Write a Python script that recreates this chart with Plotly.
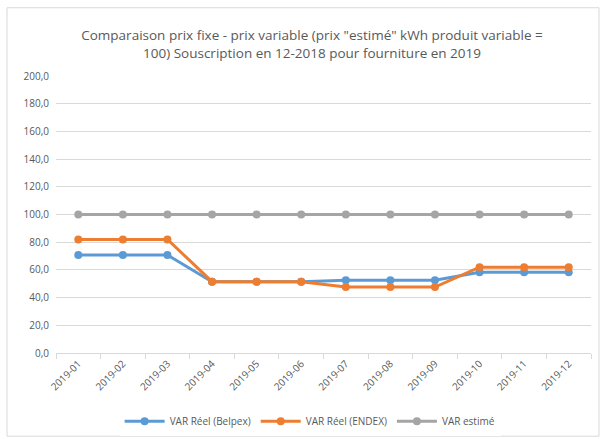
import plotly.graph_objects as go

months = ["2019-01", "2019-02", "2019-03", "2019-04", "2019-05", "2019-06",
          "2019-07", "2019-08", "2019-09", "2019-10", "2019-11", "2019-12"]
belpex = [70.7, 70.7, 70.7, 51.5, 51.5, 51.5, 52.6, 52.6, 52.6, 58.3, 58.3, 58.3]
endex = [82.0, 82.0, 82.0, 51.5, 51.5, 51.5, 47.6, 47.6, 47.6, 62.0, 62.0, 62.0]
estime = [100, 100, 100, 100, 100, 100, 100, 100, 100, 100, 100, 100]
series_names = ["VAR Réel (Belpex)", "VAR Réel (ENDEX)", "VAR estimé"]
colors = ["#5B9BD5", "#ED7D31", "#A5A5A5"]

FONT = "Open Sans"
TXT = "#595959"

fig = go.Figure()
for name, vals, col in zip(series_names, [belpex, endex, estime], colors):
    fig.add_trace(go.Scatter(
        x=months, y=vals, name=name, mode="lines+markers",
        line=dict(color=col, width=3),
        marker=dict(color=col, size=8),
    ))

W, H = 600, 439
L, R, T, B = 56, 9, 75.5, 85.5
pw = W - L - R
ph = H - T - B

def px_x(p):
    return (p - L) / pw

def px_y(p):
    return (H - B - p) / ph

fig.update_layout(
    width=W, height=H,
    margin=dict(l=L, r=R, t=T, b=B, autoexpand=False),
    paper_bgcolor="white", plot_bgcolor="white",
    separators=", ",
    font=dict(family=FONT, color=TXT, size=10),
    title=dict(
        text="Comparaison prix fixe - prix variable (prix \"estimé\" kWh produit variable =<br>100) Souscription en 12-2018 pour fourniture en 2019",
        x=px_x(312), xanchor="center", xref="paper", y=1 - 40 / H, yanchor="middle",
        font=dict(family=FONT, size=13.5, color=TXT),
    ),
    showlegend=True,
    legend=dict(
        orientation="h", x=0.475, xanchor="center",
        y=px_y(422), yanchor="middle",
        font=dict(family=FONT, size=10, color=TXT),
        itemwidth=40, tracegroupgap=0,
    ),
    xaxis=dict(
        type="category", range=[-0.5, 11.5],
        showgrid=False, showline=True, linecolor="#D9D9D9", linewidth=1,
        ticks="outside", tickson="boundaries", ticklen=5, tickcolor="#D9D9D9",
        tickangle=-45, tickfont=dict(family=FONT, size=10, color=TXT),
        fixedrange=True,
    ),
    yaxis=dict(
        range=[0, 200], dtick=20, tick0=0, tickformat=".1f",
        showgrid=True, gridcolor="#D9D9D9", gridwidth=1,
        zeroline=False, showline=False, ticks="",
        ticklabelstandoff=6,
        tickfont=dict(family=FONT, size=10, color=TXT),
        fixedrange=True,
    ),
    shapes=[dict(
        type="rect", xref="paper", yref="paper",
        x0=px_x(7), x1=px_x(599), y0=px_y(437), y1=px_y(7),
        line=dict(color="#D9D9D9", width=1), fillcolor="rgba(0,0,0,0)",
        layer="below",
    )],
)

fig.write_html("out.html", config={"displayModeBar": False, "staticPlot": True})

# remove the default page margin so the figure sits at the window origin
with open("out.html", "r", encoding="utf-8") as f:
    html = f.read()
html = html.replace("<head>", "<head><style>html,body{margin:0;padding:0;overflow:hidden;}</style>", 1)
with open("out.html", "w", encoding="utf-8") as f:
    f.write(html)
